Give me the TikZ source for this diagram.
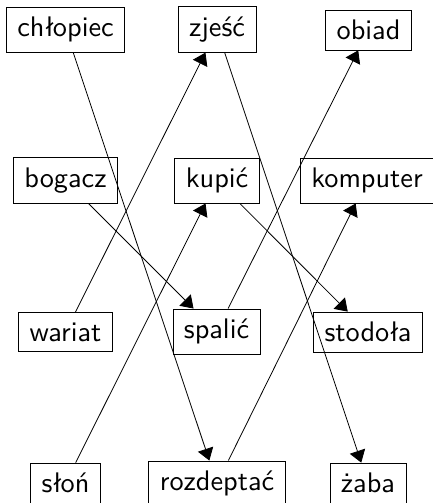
\documentclass[tikz,border=0pt]{standalone}
\usepackage{fontspec}
\newfontfamily\wordfont{lmsans10-regular.otf}
\usetikzlibrary{arrows.meta}
\begin{document}
\begin{tikzpicture}[x=1pt,y=-1pt,
  word/.style={draw, line width=0.8pt, inner xsep=11pt, inner ysep=10pt,
    font=\wordfont\fontsize{28.3}{34}\selectfont},
  link/.style={line width=0.8pt, -{Triangle[length=12pt,width=16pt]}}]
\useasboundingbox (0,0) rectangle (433,503);
\clip (0,0) rectangle (433,503);
% row 1
\node[word] (chlopiec) at (65.5,29.5) {chłopiec};
\node[word] (zjesc) at (217,29.5) {zjeść};
\node[word] (obiad) at (368.5,30) {obiad};
% row 2
\node[word] (bogacz) at (65.5,180.5) {bogacz};
\node[word] (kupic) at (217,180.5) {kupić};
\node[word] (komputer) at (367,180.5) {komputer};
% row 3
\node[word] (wariat) at (65.5,332) {wariat};
\node[word] (spalic) at (216.5,331.5) {spalić};
\node[word] (stodola) at (368,332) {stodoła};
% row 4
\node[word] (slon) at (65.5,483) {słoń};
\node[word] (rozdeptac) at (217,483.5) {rozdeptać};
\node[word] (zaba) at (368,483) {żaba};
% connectors
\draw[link] (chlopiec) -- (rozdeptac);
\draw[link] (wariat) -- (zjesc);
\draw[link] (zjesc) -- (zaba);
\draw[link] (spalic) -- (obiad);
\draw[link] (bogacz) -- (spalic);
\draw[link] (slon) -- (kupic);
\draw[link] (kupic) -- (stodola);
\draw[link] (rozdeptac) -- (komputer);
\end{tikzpicture}
\end{document}
